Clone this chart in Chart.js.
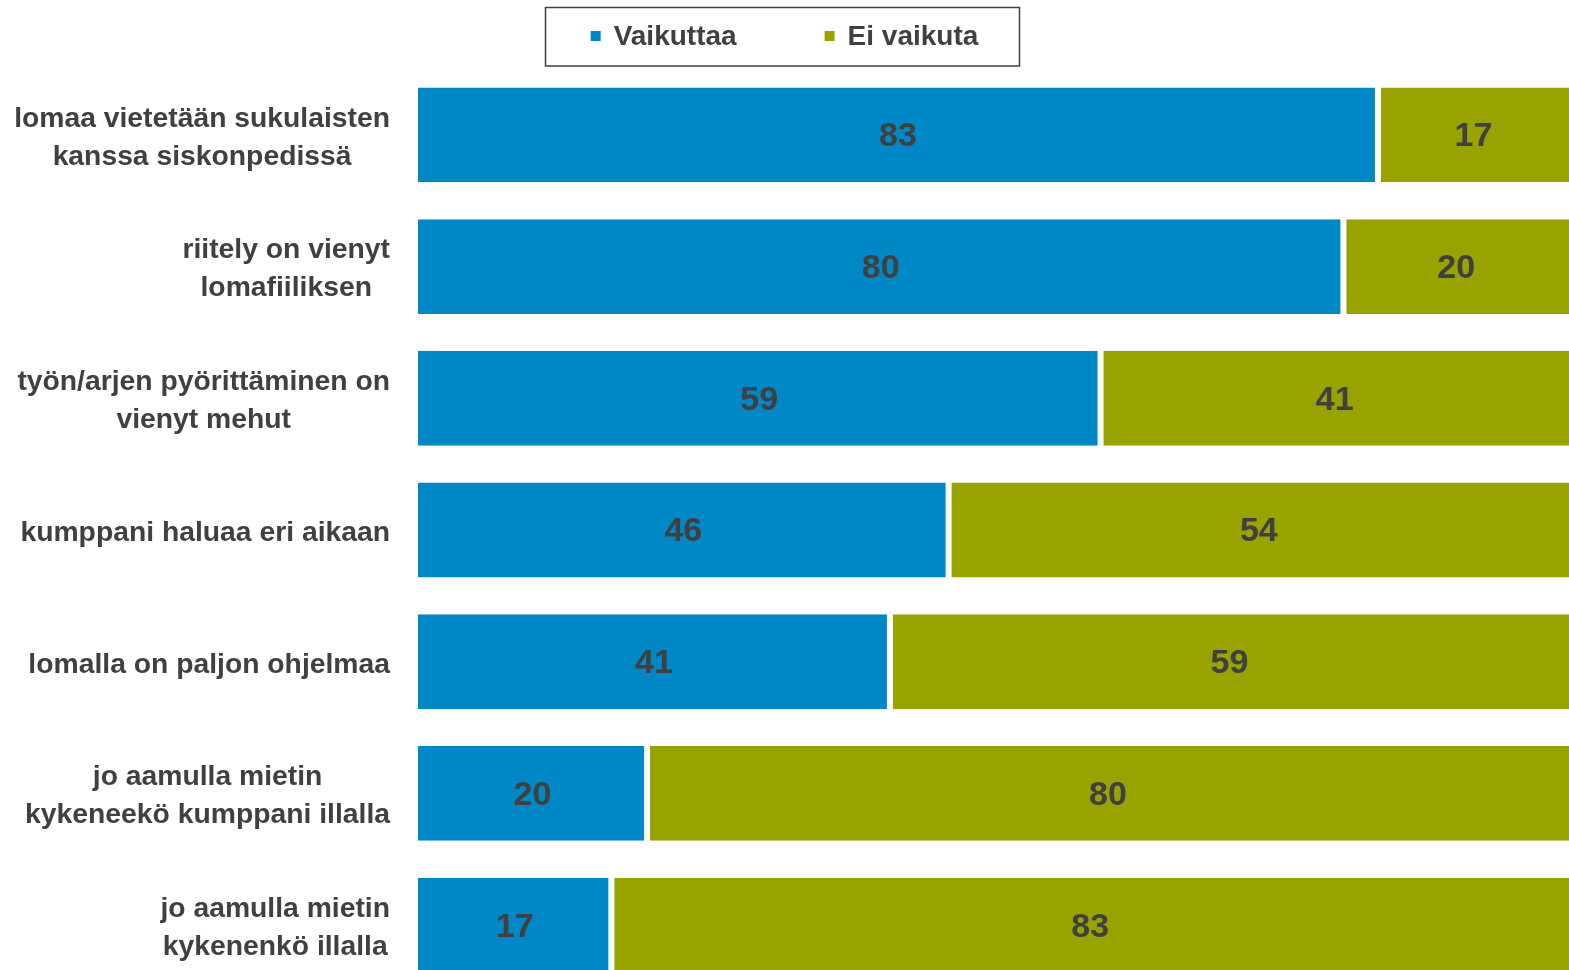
<!DOCTYPE html>
<html>
<head>
<meta charset="utf-8">
<script src="https://cdn.jsdelivr.net/npm/chart.js@4"></script>
<style>
  html, body { margin: 0; padding: 0; background: #fff; overflow: hidden; }
  #wrap { width: 1569px; height: 970px; overflow: hidden; }
  #box { position: relative; width: 1569px; height: 991px; }
</style>
</head>
<body>
<div id="wrap"><div id="box"><canvas id="chart"></canvas></div></div>
<script>
var categories = [
    ['lomaa vietetään sukulaisten', 'kanssa siskonpedissä'],
    ['riitely on vienyt', 'lomafiiliksen'],
    ['työn/arjen pyörittäminen on', 'vienyt mehut'],
    ['kumppani haluaa eri aikaan'],
    ['lomalla on paljon ohjelmaa'],
    ['jo aamulla mietin', 'kykeneekö kumppani illalla'],
    ['jo aamulla mietin', 'kykenenkö illalla']
];
// shares; the labels show them rounded
var vaikuttaa = [83.4, 80.4, 59.3, 46.1, 41.0, 19.9, 16.8];
var eiVaikuta = [16.6, 19.6, 40.7, 53.9, 59.0, 80.1, 83.2];

var textColor = '#404040';
var fontFamily = '"Liberation Sans", Arial, sans-serif';

// values in the middle of each bar
var valueLabels = {
    id: 'valueLabels',
    afterDatasetsDraw: function(chart) {
        var ctx = chart.ctx;
        ctx.save();
        ctx.font = 'bold 34px ' + fontFamily;
        ctx.fillStyle = textColor;
        ctx.textAlign = 'center';
        ctx.textBaseline = 'middle';
        chart.data.datasets.forEach(function(ds, i) {
            chart.getDatasetMeta(i).data.forEach(function(bar, j) {
                var p = bar.getProps(['x', 'y', 'base'], true);
                ctx.fillText(Math.round(ds.data[j]), (p.x + p.base) / 2, p.y + 2);
            });
        });
        ctx.restore();
    }
};

// category labels: block right aligned, lines centred in the block
var categoryLabels = {
    id: 'categoryLabels',
    afterDraw: function(chart) {
        var ctx = chart.ctx;
        var yScale = chart.scales.y;
        var right = chart.chartArea.left - 28;
        var lh = 38;
        ctx.save();
        ctx.font = 'bold 28.3px ' + fontFamily;
        ctx.fillStyle = textColor;
        ctx.textAlign = 'center';
        ctx.textBaseline = 'middle';
        chart.data.labels.forEach(function(lines, i) {
            var yc = yScale.getPixelForTick(i) + 3;
            var w = Math.max.apply(null, lines.map(function(l) { return ctx.measureText(l).width; }));
            var cx = right - w / 2;
            var y0 = yc - (lines.length - 1) * lh / 2;
            lines.forEach(function(l, k) {
                ctx.fillText(l, cx, y0 + k * lh);
            });
        });
        ctx.restore();
    }
};

// legend with a frame, drawn by hand
var framedLegend = {
    id: 'framedLegend',
    afterDraw: function(chart) {
        var ctx = chart.ctx;
        var ds = chart.data.datasets;
        ctx.save();
        ctx.font = 'bold 28px ' + fontFamily;
        var box = 10, gapText = 13, gapItem = 88;
        var widths = ds.map(function(d) { return box + gapText + ctx.measureText(d.label).width; });
        var total = widths.reduce(function(a, b) { return a + b; }, 0) + gapItem * (ds.length - 1);
        var x = chart.width / 2 - total / 2;
        var yc = 36;
        var start = x;
        ctx.textBaseline = 'middle';
        ctx.textAlign = 'left';
        ds.forEach(function(d, i) {
            ctx.fillStyle = d.backgroundColor;
            ctx.fillRect(x, yc - 5, box, box);
            ctx.fillStyle = textColor;
            ctx.fillText(d.label, x + box + gapText, yc + 1);
            x += widths[i] + gapItem;
        });
        var end = start + total;
        ctx.strokeStyle = '#404040';
        ctx.lineWidth = 1.5;
        ctx.strokeRect(Math.round(start - 46) + 0.5, 7.5, Math.round(end + 40 - (start - 46)), 58.5);
        ctx.restore();
    }
};

var ctx = document.getElementById('chart');
var myChart = new Chart(ctx, {
    type: 'bar',
    data: {
        labels: categories,
        datasets: [
            {
                label: 'Vaikuttaa',
                data: vaikuttaa,
                backgroundColor: '#0088C6',
                borderColor: '#ffffff',
                borderWidth: { right: 3, left: 0, top: 0, bottom: 0 },
                borderSkipped: false
            },
            {
                label: 'Ei vaikuta',
                data: eiVaikuta,
                backgroundColor: '#98A300',
                borderColor: '#ffffff',
                borderWidth: { left: 3, right: 0, top: 0, bottom: 0 },
                borderSkipped: false
            }
        ]
    },
    options: {
        indexAxis: 'y',
        responsive: true,
        maintainAspectRatio: false,
        animation: false,
        categoryPercentage: 1,
        barPercentage: 0.72,
        layout: { padding: { top: 69, left: 0, right: 0, bottom: 0 } },
        scales: {
            x: {
                stacked: true,
                min: 0,
                max: 100,
                display: false
            },
            y: {
                stacked: true,
                grid: { display: false },
                border: { display: false },
                ticks: { display: false },
                afterFit: function(scale) {
                    scale.width = 418;
                    scale.paddingTop = 0;
                    scale.paddingBottom = 0;
                }
            }
        },
        plugins: {
            tooltip: { enabled: false },
            legend: { display: false }
        }
    },
    plugins: [valueLabels, categoryLabels, framedLegend]
});
</script>
</body>
</html>
